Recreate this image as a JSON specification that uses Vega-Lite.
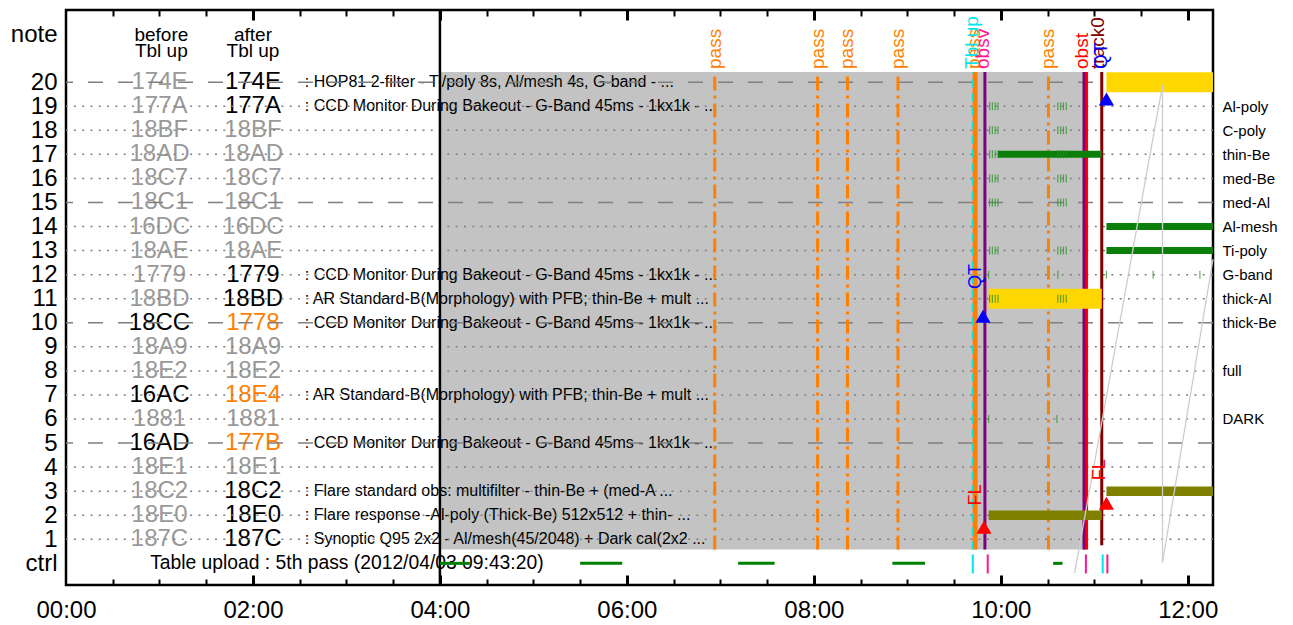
{
"$schema": "https://vega.github.io/schema/vega-lite/v6.json",
"width": 1147, "height": 575,
"padding": {"left": 0, "top": 8, "right": 0, "bottom": 0},
"background": "white",
"config": {"view": {"stroke": "black", "strokeWidth": 2.5}, "font": "Liberation Sans", "axis": {"labelFont": "Liberation Sans", "grid": false, "title": null}},
"datasets": {
"codes": [
{"row":20,"before":"174E","bs":"off","after":"174E","as":"on","desc":": HOP81 2-filter - Ti/poly 8s, Al/mesh 4s, G-band -  ..."},
{"row":19,"before":"177A","bs":"off","after":"177A","as":"on","desc":": CCD Monitor During Bakeout - G-Band 45ms - 1kx1k - ..."},
{"row":18,"before":"18BF","bs":"off","after":"18BF","as":"off","desc":""},
{"row":17,"before":"18AD","bs":"off","after":"18AD","as":"off","desc":""},
{"row":16,"before":"18C7","bs":"off","after":"18C7","as":"off","desc":""},
{"row":15,"before":"18C1","bs":"off","after":"18C1","as":"off","desc":""},
{"row":14,"before":"16DC","bs":"off","after":"16DC","as":"off","desc":""},
{"row":13,"before":"18AE","bs":"off","after":"18AE","as":"off","desc":""},
{"row":12,"before":"1779","bs":"off","after":"1779","as":"on","desc":": CCD Monitor During Bakeout - G-Band 45ms - 1kx1k - ..."},
{"row":11,"before":"18BD","bs":"off","after":"18BD","as":"on","desc":": AR Standard-B(Morphology) with PFB; thin-Be + mult ..."},
{"row":10,"before":"18CC","bs":"on","after":"1778","as":"new","desc":": CCD Monitor During Bakeout - G-Band 45ms - 1kx1k - ..."},
{"row":9,"before":"18A9","bs":"off","after":"18A9","as":"off","desc":""},
{"row":8,"before":"18E2","bs":"off","after":"18E2","as":"off","desc":""},
{"row":7,"before":"16AC","bs":"on","after":"18E4","as":"new","desc":": AR Standard-B(Morphology) with PFB; thin-Be + mult ..."},
{"row":6,"before":"1881","bs":"off","after":"1881","as":"off","desc":""},
{"row":5,"before":"16AD","bs":"on","after":"177B","as":"new","desc":": CCD Monitor During Bakeout - G-Band 45ms - 1kx1k - ..."},
{"row":4,"before":"18E1","bs":"off","after":"18E1","as":"off","desc":""},
{"row":3,"before":"18C2","bs":"off","after":"18C2","as":"on","desc":": Flare standard obs: multifilter - thin-Be + (med-A ..."},
{"row":2,"before":"18E0","bs":"off","after":"18E0","as":"on","desc":": Flare response -Al-poly (Thick-Be) 512x512 + thin- ..."},
{"row":1,"before":"187C","bs":"off","after":"187C","as":"on","desc":": Synoptic Q95 2x2 - Al/mesh(45/2048) + Dark cal(2x2 ..."}
],
"headers": [
{"t":1.02,"row":21.95,"txt":"before"},{"t":1.02,"row":21.29,"txt":"Tbl up"},
{"t":2.0,"row":21.95,"txt":"after"},{"t":2.0,"row":21.29,"txt":"Tbl up"}
],
"grid": [
{"row":1,"style":"dot"},{"row":2,"style":"dot"},{"row":3,"style":"dot"},{"row":4,"style":"dot"},{"row":5,"style":"dash"},
{"row":6,"style":"dot"},{"row":7,"style":"dot"},{"row":8,"style":"dot"},{"row":9,"style":"dot"},{"row":10,"style":"dash"},
{"row":11,"style":"dot"},{"row":12,"style":"dot"},{"row":13,"style":"dot"},{"row":14,"style":"dot"},{"row":15,"style":"dash"},
{"row":16,"style":"dot"},{"row":17,"style":"dot"},{"row":18,"style":"dot"},{"row":19,"style":"dot"},{"row":20,"style":"dash"}
],
"vlines": [
{"t":6.94,"kind":"pass"},{"t":8.04,"kind":"pass"},{"t":8.36,"kind":"pass"},{"t":8.9,"kind":"pass"},{"t":10.51,"kind":"pass"},
{"t":9.725,"kind":"tbl"},{"t":9.70,"kind":"tblc"},
{"t":9.83,"kind":"obsv"},{"t":10.89,"kind":"obsv"},
{"t":10.915,"kind":"obst"},{"t":11.08,"kind":"track"}
],
"toplabels": [
{"t":6.94,"label":"pass","kind":"pass"},{"t":8.04,"label":"pass","kind":"pass"},{"t":8.36,"label":"pass","kind":"pass"},
{"t":8.9,"label":"pass","kind":"pass"},{"t":10.51,"label":"pass","kind":"pass"},{"t":9.715,"label":"pass","kind":"pass"},
{"t":9.69,"label":"Tbl up","kind":"tbl"},{"t":9.81,"label":"obsv","kind":"obsv"},
{"t":10.87,"label":"obst","kind":"obst"},{"t":11.04,"label":"track0","kind":"track"},{"t":11.07,"label":"QT","kind":"qt"}
],
"yellow": [{"t1":11.13,"t2":12.27,"row":20},{"t1":9.87,"t2":11.08,"row":11}],
"olive": [{"t1":11.13,"t2":12.27,"row":3},{"t1":9.87,"t2":11.08,"row":2}],
"green": [{"t1":9.97,"t2":11.08,"row":17},{"t1":11.13,"t2":12.27,"row":14},{"t1":11.13,"t2":12.27,"row":13}],
"gticks": [
{"t":9.88,"row":19},{"t":9.91,"row":19},{"t":9.94,"row":19},{"t":9.97,"row":19},{"t":10.61,"row":19},{"t":10.64,"row":19},{"t":10.67,"row":19},{"t":10.70,"row":19},
{"t":9.88,"row":18},{"t":9.91,"row":18},{"t":9.94,"row":18},{"t":9.97,"row":18},{"t":10.61,"row":18},{"t":10.64,"row":18},{"t":10.67,"row":18},{"t":10.70,"row":18},
{"t":9.88,"row":17},{"t":9.91,"row":17},{"t":9.94,"row":17},{"t":9.97,"row":17},{"t":10.61,"row":17},{"t":10.64,"row":17},{"t":10.67,"row":17},{"t":10.70,"row":17},
{"t":9.88,"row":16},{"t":9.91,"row":16},{"t":9.94,"row":16},{"t":9.97,"row":16},{"t":10.61,"row":16},{"t":10.64,"row":16},{"t":10.67,"row":16},{"t":10.70,"row":16},
{"t":9.88,"row":15},{"t":9.91,"row":15},{"t":9.94,"row":15},{"t":9.97,"row":15},{"t":10.61,"row":15},{"t":10.64,"row":15},{"t":10.67,"row":15},{"t":10.70,"row":15},
{"t":9.88,"row":13},{"t":9.91,"row":13},{"t":9.94,"row":13},{"t":9.97,"row":13},{"t":10.61,"row":13},{"t":10.64,"row":13},{"t":10.67,"row":13},{"t":10.70,"row":13},
{"t":9.88,"row":11},{"t":9.91,"row":11},{"t":9.94,"row":11},{"t":9.97,"row":11},{"t":10.61,"row":11},{"t":10.64,"row":11},{"t":10.67,"row":11},{"t":10.70,"row":11},
{"t":9.87,"row":12},{"t":10.61,"row":12},{"t":11.13,"row":12},{"t":11.63,"row":12},{"t":12.13,"row":12},
{"t":9.87,"row":6},{"t":10.60,"row":6}
],
"ctrlseg": [{"t1":4.0,"t2":4.32},{"t1":5.5,"t2":5.95},{"t1":7.19,"t2":7.58},{"t1":8.84,"t2":9.19},{"t1":10.56,"t2":10.66}],
"ctrlticks": [{"t":9.70,"kind":"c"},{"t":9.86,"kind":"p"},{"t":10.91,"kind":"p"},{"t":11.09,"kind":"c"},{"t":11.14,"kind":"p"}],
"light": [
{"id":"A","seq":1,"t":11.73,"row":19.88},{"id":"A","seq":2,"t":10.79,"row":-0.4},
{"id":"B","seq":1,"t":11.73,"row":19.88},{"id":"B","seq":2,"t":11.73,"row":0.04},
{"id":"C","seq":1,"t":12.27,"row":12.64},{"id":"C","seq":2,"t":11.73,"row":0.04}
],
"tri": [{"t":9.81,"row":10.27,"kind":"qt"},{"t":11.13,"row":19.3,"kind":"qt"},{"t":9.82,"row":1.5,"kind":"fl"},{"t":11.13,"row":2.5,"kind":"fl"}],
"notes": [{"t":9.73,"row":11.4,"label":"QT","kind":"qt"},{"t":9.74,"row":2.4,"label":"FL","kind":"fl"},{"t":11.06,"row":3.45,"label":"FL","kind":"fl"}]
},
"layer": [
{"data": {"values": [{}]}, "mark": {"type": "rect", "color": "#c3c3c3"},
 "encoding": {
  "x": {"datum": 4, "type": "quantitative", "scale": {"domain":[0,12.27],"nice":false,"zero":false},
        "axis": {"orient":"bottom","values":[0,2,4,6,8,10,12],"labelExpr":"(datum.value < 10 ? '0' : '') + datum.value + ':00'","labelFontSize":24,"labelPadding":13,"ticks":false,"domain":false,"labelFlush":false,"labelColor":"black","labelOverlap":false}},
  "x2": {"datum": 10.93},
  "y": {"datum": 0.58, "type": "quantitative", "scale": {"domain":[-0.9,23],"nice":false,"zero":false},
        "axis": {"orient":"left","values":[0,1,2,3,4,5,6,7,8,9,10,11,12,13,14,15,16,17,18,19,20,22],"labelExpr":"datum.value == 0 ? 'ctrl' : (datum.value == 22 ? 'note' : datum.label)","labelFontSize":24,"ticks":false,"domain":false,"labelPadding":9,"minExtent":66,"maxExtent":66,"labelColor":"black","labelOverlap":false}},
  "y2": {"datum": 20.42}}},
{"data": {"name": "codes"}, "mark": {"type": "text", "fontSize": 24, "align": "center", "baseline": "middle", "font": "Liberation Sans"},
 "encoding": {"x": {"datum": 1.0, "type": "quantitative", "scale": {"domain":[0,12.27],"nice":false,"zero":false}, "axis": null},
  "y": {"field": "row", "type": "quantitative", "scale": {"domain":[-0.9,23],"nice":false,"zero":false}, "axis": null},
  "text": {"field": "before"},
  "color": {"field": "bs", "type": "nominal", "scale": {"domain": ["off","on","new"], "range": ["#999999","#000000","#ff8000"]}, "legend": null}}},
{"data": {"name": "codes"}, "mark": {"type": "text", "fontSize": 24, "align": "center", "baseline": "middle", "font": "Liberation Sans"},
 "encoding": {"x": {"datum": 2.0, "type": "quantitative", "scale": {"domain":[0,12.27],"nice":false,"zero":false}, "axis": null},
  "y": {"field": "row", "type": "quantitative", "scale": {"domain":[-0.9,23],"nice":false,"zero":false}, "axis": null},
  "text": {"field": "after"},
  "color": {"field": "as", "type": "nominal", "scale": {"domain": ["off","on","new"], "range": ["#999999","#000000","#ff8000"]}, "legend": null}}},
{"data": {"name": "headers"}, "mark": {"type": "text", "fontSize": 19, "align": "center", "baseline": "middle", "color": "black", "font": "Liberation Sans"},
 "encoding": {"x": {"field": "t", "type": "quantitative", "scale": {"domain":[0,12.27],"nice":false,"zero":false}, "axis": null},
  "y": {"field": "row", "type": "quantitative", "scale": {"domain":[-0.9,23],"nice":false,"zero":false}, "axis": null},
  "text": {"field": "txt"}}},
{"data": {"name": "codes"}, "transform": [{"filter": "datum.desc != ''"}], "mark": {"type": "text", "fontSize": 16, "align": "left", "baseline": "middle", "color": "black", "font": "Liberation Sans"},
 "encoding": {"x": {"datum": 2.555, "type": "quantitative", "scale": {"domain":[0,12.27],"nice":false,"zero":false}, "axis": null},
  "y": {"field": "row", "type": "quantitative", "scale": {"domain":[-0.9,23],"nice":false,"zero":false}, "axis": null},
  "text": {"field": "desc"}}},
{"data": {"values": [{"t": 0.9, "row": 0, "txt": "Table upload : 5th pass (2012/04/03 09:43:20)"}]}, "mark": {"type": "text", "fontSize": 19.3, "align": "left", "baseline": "middle", "color": "black", "font": "Liberation Sans"},
 "encoding": {"x": {"field": "t", "type": "quantitative", "scale": {"domain":[0,12.27],"nice":false,"zero":false}, "axis": null},
  "y": {"field": "row", "type": "quantitative", "scale": {"domain":[-0.9,23],"nice":false,"zero":false}, "axis": null},
  "text": {"field": "txt"}}},
{"data": {"name": "grid"}, "mark": {"type": "rule", "color": "#808080", "strokeWidth": 1.5},
 "encoding": {
  "y": {"field": "row", "type": "quantitative", "scale": {"domain":[-0.9,23],"nice":false,"zero":false},
        "axis": {"orient":"right","values":[6,8,10,11,12,13,14,15,16,17,18,19],"labelExpr":"['DARK','','full','','thick-Be','thick-Al','G-band','Ti-poly','Al-mesh','med-Al','med-Be','thin-Be','C-poly','Al-poly'][datum.value-6]","labelFontSize":15,"ticks":false,"domain":false,"labelPadding":9,"labelColor":"black","labelOverlap":false}},
  "strokeDash": {"field": "style", "type": "nominal", "scale": {"domain": ["dot","dash"], "range": [[2,6.3],[15,15]]}, "legend": null}}},
{"data": {"values": [{}]}, "mark": {"type": "rule", "color": "black", "strokeWidth": 2.5},
 "encoding": {"x": {"datum": 4, "type": "quantitative", "scale": {"domain":[0,12.27],"nice":false,"zero":false},
   "axis": {"orient":"top","values":[0.5,1,1.5,2,2.5,3,3.5,4,4.5,5,5.5,6,6.5,7,7.5,8,8.5,9,9.5,10,10.5,11,11.5,12],"labels":false,"domain":false,"ticks":true,"tickColor":"black",
     "tickSize":{"condition":{"test":"datum.value % 2 === 0","value":-10},"value":-6},"tickWidth":{"condition":{"test":"datum.value % 2 === 0","value":3},"value":2}}}}},
{"data": {"name": "vlines"}, "transform": [{"filter": "datum.kind == 'pass'"}], "mark": {"type": "rule", "color": "#ff8000", "strokeWidth": 3, "strokeDash": [14,5,3,5]},
 "encoding": {"x": {"field": "t", "type": "quantitative", "scale": {"domain":[0,12.27],"nice":false,"zero":false},
   "axis": {"orient":"bottom","values":[0.5,1,1.5,2,2.5,3,3.5,4,4.5,5,5.5,6,6.5,7,7.5,8,8.5,9,9.5,10,10.5,11,11.5,12],"labels":false,"domain":false,"ticks":true,"tickColor":"black",
     "tickSize":{"condition":{"test":"datum.value % 2 === 0","value":-10},"value":-6},"tickWidth":{"condition":{"test":"datum.value % 2 === 0","value":3},"value":2}}},
  "y": {"datum": 0.58, "type": "quantitative", "scale": {"domain":[-0.9,23],"nice":false,"zero":false}, "axis": null},
  "y2": {"datum": 20.42}}},
{"data": {"name": "vlines"}, "transform": [{"filter": "datum.kind == 'tbl'"}], "mark": {"type": "rule", "color": "#ff8000", "strokeWidth": 5},
 "encoding": {"x": {"field": "t", "type": "quantitative", "scale": {"domain":[0,12.27],"nice":false,"zero":false}, "axis": null},
  "y": {"datum": 0.58, "type": "quantitative", "scale": {"domain":[-0.9,23],"nice":false,"zero":false}, "axis": null}, "y2": {"datum": 20.42}}},
{"data": {"name": "vlines"}, "transform": [{"filter": "datum.kind == 'tblc'"}], "mark": {"type": "rule", "color": "#00e5e5", "strokeWidth": 2, "strokeDash": [8,6]},
 "encoding": {"x": {"field": "t", "type": "quantitative", "scale": {"domain":[0,12.27],"nice":false,"zero":false}, "axis": null},
  "y": {"datum": 0.58, "type": "quantitative", "scale": {"domain":[-0.9,23],"nice":false,"zero":false}, "axis": null}, "y2": {"datum": 20.42}}},
{"data": {"name": "vlines"}, "transform": [{"filter": "datum.kind == 'obst'"}], "mark": {"type": "rule", "color": "#ff0000", "strokeWidth": 3.5},
 "encoding": {"x": {"field": "t", "type": "quantitative", "scale": {"domain":[0,12.27],"nice":false,"zero":false}, "axis": null},
  "y": {"datum": 0.58, "type": "quantitative", "scale": {"domain":[-0.9,23],"nice":false,"zero":false}, "axis": null}, "y2": {"datum": 20.42}}},
{"data": {"name": "vlines"}, "transform": [{"filter": "datum.kind == 'obsv'"}], "mark": {"type": "rule", "color": "#800080", "strokeWidth": 3},
 "encoding": {"x": {"field": "t", "type": "quantitative", "scale": {"domain":[0,12.27],"nice":false,"zero":false}, "axis": null},
  "y": {"datum": 0.58, "type": "quantitative", "scale": {"domain":[-0.9,23],"nice":false,"zero":false}, "axis": null}, "y2": {"datum": 20.42}}},
{"data": {"name": "vlines"}, "transform": [{"filter": "datum.kind == 'track'"}], "mark": {"type": "rule", "color": "#800000", "strokeWidth": 3},
 "encoding": {"x": {"field": "t", "type": "quantitative", "scale": {"domain":[0,12.27],"nice":false,"zero":false}, "axis": null},
  "y": {"datum": 0.75, "type": "quantitative", "scale": {"domain":[-0.9,23],"nice":false,"zero":false}, "axis": null}, "y2": {"datum": 20.42}}},
{"data": {"name": "yellow"}, "mark": {"type": "rule", "color": "#ffd700", "strokeWidth": 20, "strokeCap": "butt"},
 "encoding": {"x": {"field": "t1", "type": "quantitative", "scale": {"domain":[0,12.27],"nice":false,"zero":false}, "axis": null}, "x2": {"field": "t2"},
  "y": {"field": "row", "type": "quantitative", "scale": {"domain":[-0.9,23],"nice":false,"zero":false}, "axis": null}}},
{"data": {"name": "olive"}, "mark": {"type": "rule", "color": "#808000", "strokeWidth": 9.5, "strokeCap": "butt"},
 "encoding": {"x": {"field": "t1", "type": "quantitative", "scale": {"domain":[0,12.27],"nice":false,"zero":false}, "axis": null}, "x2": {"field": "t2"},
  "y": {"field": "row", "type": "quantitative", "scale": {"domain":[-0.9,23],"nice":false,"zero":false}, "axis": null}}},
{"data": {"name": "green"}, "mark": {"type": "rule", "color": "#0a800a", "strokeWidth": 7, "strokeCap": "butt"},
 "encoding": {"x": {"field": "t1", "type": "quantitative", "scale": {"domain":[0,12.27],"nice":false,"zero":false}, "axis": null}, "x2": {"field": "t2"},
  "y": {"field": "row", "type": "quantitative", "scale": {"domain":[-0.9,23],"nice":false,"zero":false}, "axis": null}}},
{"data": {"name": "gticks"}, "mark": {"type": "tick", "orient": "vertical", "color": "#1f8f1f", "thickness": 1.2, "size": 8},
 "encoding": {"x": {"field": "t", "type": "quantitative", "scale": {"domain":[0,12.27],"nice":false,"zero":false}, "axis": null},
  "y": {"field": "row", "type": "quantitative", "scale": {"domain":[-0.9,23],"nice":false,"zero":false}, "axis": null}}},
{"data": {"name": "light"}, "mark": {"type": "line", "color": "#cdcdcd", "strokeWidth": 1.3},
 "encoding": {"x": {"field": "t", "type": "quantitative", "scale": {"domain":[0,12.27],"nice":false,"zero":false}, "axis": null},
  "y": {"field": "row", "type": "quantitative", "scale": {"domain":[-0.9,23],"nice":false,"zero":false}, "axis": null},
  "detail": {"field": "id"}, "order": {"field": "seq"}}},
{"data": {"name": "ctrlseg"}, "mark": {"type": "rule", "color": "#008000", "strokeWidth": 3},
 "encoding": {"x": {"field": "t1", "type": "quantitative", "scale": {"domain":[0,12.27],"nice":false,"zero":false}, "axis": null}, "x2": {"field": "t2"},
  "y": {"datum": 0, "type": "quantitative", "scale": {"domain":[-0.9,23],"nice":false,"zero":false}, "axis": null}}},
{"data": {"name": "ctrlticks"}, "mark": {"type": "rule", "strokeWidth": 2},
 "encoding": {"x": {"field": "t", "type": "quantitative", "scale": {"domain":[0,12.27],"nice":false,"zero":false}, "axis": null},
  "y": {"datum": -0.42, "type": "quantitative", "scale": {"domain":[-0.9,23],"nice":false,"zero":false}, "axis": null}, "y2": {"datum": 0.37},
  "color": {"field": "kind", "type": "nominal", "scale": {"domain": ["c","p"], "range": ["#00e5ee","#ff1493"]}, "legend": null}}},
{"data": {"name": "tri"}, "mark": {"type": "point", "shape": "triangle-up", "filled": true, "opacity": 1, "size": 230},
 "encoding": {"x": {"field": "t", "type": "quantitative", "scale": {"domain":[0,12.27],"nice":false,"zero":false}, "axis": null},
  "y": {"field": "row", "type": "quantitative", "scale": {"domain":[-0.9,23],"nice":false,"zero":false}, "axis": null},
  "color": {"field": "kind", "type": "nominal", "scale": {"domain": ["qt","fl"], "range": ["#0000ff","#ff0000"]}, "legend": null}}},
{"data": {"name": "toplabels"}, "mark": {"type": "text", "angle": 270, "align": "left", "baseline": "middle", "fontSize": 19, "font": "Liberation Sans"},
 "encoding": {"x": {"field": "t", "type": "quantitative", "scale": {"domain":[0,12.27],"nice":false,"zero":false}, "axis": null},
  "y": {"datum": 20.55, "type": "quantitative", "scale": {"domain":[-0.9,23],"nice":false,"zero":false}, "axis": null},
  "text": {"field": "label"},
  "color": {"field": "kind", "type": "nominal", "scale": {"domain": ["pass","tbl","obsv","obst","track","qt"], "range": ["#ff8000","#00e5ee","#ff1493","#ff0000","#800000","#0000ff"]}, "legend": null}}},
{"data": {"name": "notes"}, "mark": {"type": "text", "angle": 270, "align": "left", "baseline": "middle", "fontSize": 18, "font": "Liberation Sans"},
 "encoding": {"x": {"field": "t", "type": "quantitative", "scale": {"domain":[0,12.27],"nice":false,"zero":false}, "axis": null},
  "y": {"field": "row", "type": "quantitative", "scale": {"domain":[-0.9,23],"nice":false,"zero":false}, "axis": null},
  "text": {"field": "label"},
  "color": {"field": "kind", "type": "nominal", "scale": {"domain": ["qt","fl"], "range": ["#0000ff","#ff0000"]}, "legend": null}}}
],
"resolve": {"axis": {"x": "independent", "y": "independent"}, "scale": {"color": "independent"}}
}
